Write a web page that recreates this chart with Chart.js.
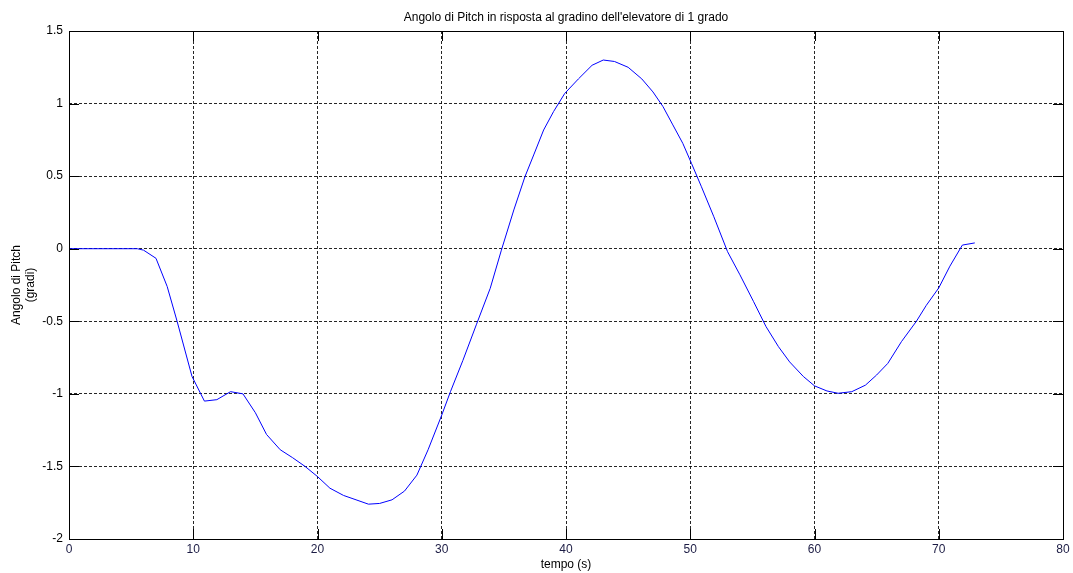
<!DOCTYPE html>
<html>
<head>
<meta charset="utf-8">
<title>Angolo di Pitch</title>
<script src="https://cdn.jsdelivr.net/npm/chart.js@4.4.1/dist/chart.umd.min.js"></script>
<style>
	html, body { margin: 0; padding: 0; background: #fff; }
	#box { width: 1073px; height: 573px; }
</style>
</head>
<body>
<div id="box"><canvas id="pitch"></canvas></div>
<script>
// tempo (s) and pitch angle (gradi) of the step response
var tempo = [
	0, 5.5, 6.0, 7.0, 7.9, 8.7, 9.9, 10.9, 11.9, 13.0, 14.0, 15.0, 15.9, 17.0,
	18.0, 19.0, 20.0, 21.0, 22.1, 23.1, 24.1, 25.0, 26.0, 27.0, 28.0, 28.9,
	30.0, 30.7, 31.7, 32.8, 33.9, 34.8, 35.8, 36.7, 37.4, 38.2, 39.0, 39.9,
	41.0, 42.1, 43.0, 43.9, 45.0, 46.1, 47.0, 47.8, 48.6, 49.4, 50.1, 50.9,
	51.9, 53.0, 54.0, 55.1, 56.1, 57.1, 58.0, 59.1, 60.0, 61.0, 61.9, 63.0,
	64.1, 65.0, 65.9, 67.0, 68.2, 69.0, 70.0, 70.9, 71.9, 72.9
];

var pitch = [
	0, 0, -0.01, -0.066, -0.26, -0.50, -0.88, -1.05, -1.04, -0.985, -1.00, -1.13, -1.28, -1.385,
	-1.44, -1.50, -1.57, -1.65, -1.70, -1.73, -1.76, -1.755, -1.73, -1.67, -1.56, -1.385,
	-1.146, -0.985, -0.77, -0.52, -0.273, -0.01, 0.267, 0.497, 0.646, 0.818, 0.945, 1.07,
	1.17, 1.264, 1.30, 1.29, 1.25, 1.17, 1.08, 0.98, 0.853, 0.726, 0.588, 0.427,
	0.22, -0.02, -0.18, -0.365, -0.537, -0.675, -0.78, -0.88, -0.945, -0.98, -0.996, -0.985,
	-0.94, -0.87, -0.79, -0.64, -0.50, -0.39, -0.27, -0.12, 0.025, 0.04
];

var xTicks = [0, 10, 20, 30, 40, 50, 60, 70, 80];
var yTicks = [-2, -1.5, -1, -0.5, 0, 0.5, 1, 1.5];

var fontFamily = '"Liberation Sans", Arial, Helvetica, sans-serif';

// frame around the axes plus the short inward tick marks on all four sides;
// the title is centred over the plot area rather than the whole canvas
var axesBox = {
	id: 'axesBox',
	afterLayout: function (chart) {
		if (chart.titleBlock) {
			chart.titleBlock.left = chart.chartArea.left;
			chart.titleBlock.right = chart.chartArea.right;
		}
	},
	afterDraw: function (chart) {
		var ctx = chart.ctx;
		var a = chart.chartArea;
		var xs = chart.scales.x;
		var ys = chart.scales.y;
		var len = 10;

		ctx.save();
		ctx.strokeStyle = '#000';
		ctx.lineWidth = 1;
		ctx.beginPath();
		xTicks.forEach(function (v) {
			var px = Math.round(xs.getPixelForValue(v)) + 0.5;
			ctx.moveTo(px, a.bottom);
			ctx.lineTo(px, a.bottom - len);
			ctx.moveTo(px, a.top);
			ctx.lineTo(px, a.top + len);
		});
		yTicks.forEach(function (v) {
			var py = Math.round(ys.getPixelForValue(v)) + 0.5;
			ctx.moveTo(a.left, py);
			ctx.lineTo(a.left + len, py);
			ctx.moveTo(a.right, py);
			ctx.lineTo(a.right - len, py);
		});
		ctx.stroke();

		ctx.strokeRect(Math.round(a.left) + 0.5, Math.round(a.top) + 0.5,
			Math.round(a.right - a.left), Math.round(a.bottom - a.top));
		ctx.restore();
	}
};

var points = tempo.map(function (t, i) {
	return { x: t, y: pitch[i] };
});

var config = {
	type: 'scatter',
	data: {
		datasets: [{
			data: points,
			showLine: true,
			borderColor: '#0000ff',
			borderWidth: 1,
			pointRadius: 0,
			tension: 0,
			fill: false,
		}]
	},
	options: {
		responsive: true,
		maintainAspectRatio: false,
		animation: false,
		events: [],
		layout: {
			padding: { left: 0, right: 10, top: 0, bottom: 0 }
		},
		scales: {
			x: {
				type: 'linear',
				min: 0,
				max: 80,
				afterBuildTicks: function (scale) {
					scale.ticks = xTicks.map(function (v) { return { value: v }; });
				},
				afterFit: function (scale) {
					scale.height = 34;
				},
				grid: {
					color: 'rgba(0,0,0,0.85)',
					lineWidth: 1,
					drawTicks: false,
				},
				border: {
					display: false,
					dash: [3, 2],
				},
				ticks: {
					color: '#1c1c44',
					padding: 3,
					maxRotation: 0,
					font: { family: fontFamily, size: 12 },
				},
				title: {
					display: true,
					text: 'tempo (s)',
					color: '#000',
					padding: { top: 0, bottom: 1 },
					font: { family: fontFamily, size: 12 },
				}
			},
			y: {
				type: 'linear',
				min: -2,
				max: 1.5,
				afterBuildTicks: function (scale) {
					scale.ticks = yTicks.map(function (v) { return { value: v }; });
				},
				afterFit: function (scale) {
					scale.width = 69;
				},
				grid: {
					color: 'rgba(0,0,0,0.85)',
					lineWidth: 1,
					drawTicks: false,
				},
				border: {
					display: false,
					dash: [3, 2],
				},
				ticks: {
					color: '#000',
					padding: 6,
					font: { family: fontFamily, size: 12 },
					callback: function (v) { return String(v); },
				},
				title: {
					display: true,
					text: ['Angolo di Pitch', '(gradi)'],
					color: '#000',
					padding: { top: 9, bottom: 0 },
					font: { family: fontFamily, size: 12 },
				}
			}
		},
		plugins: {
			legend: { display: false },
			tooltip: { enabled: false },
			title: {
				display: true,
				text: "Angolo di Pitch in risposta al gradino dell'elevatore di 1 grado",
				color: '#000',
				padding: { top: 10, bottom: 6.6 },
				font: { family: fontFamily, size: 12, weight: 'normal' },
			}
		}
	},
	plugins: [axesBox]
};

const pitchChart = new Chart(document.getElementById('pitch'), config);
</script>
</body>
</html>
